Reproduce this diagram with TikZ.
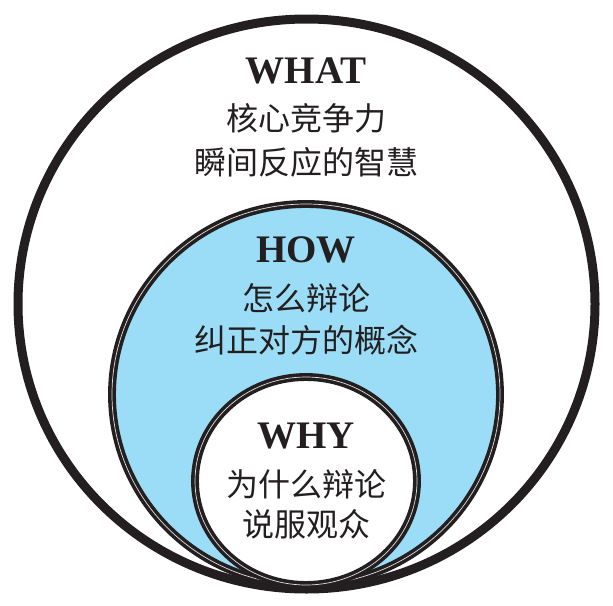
\documentclass[tikz,border=0pt]{standalone}
\usepackage{fontspec}
\setmainfont{Liberation Serif}
\newfontfamily\cjk{Noto Sans CJK SC}
\usepackage{tikz}
\usetikzlibrary{shapes.geometric}

\definecolor{inkdark}{HTML}{231F20}
\definecolor{skyfill}{HTML}{9BDDF6}

\begin{document}
\begin{tikzpicture}[x=1pt, y=-1pt,
    ring/.style={ellipse, draw=inkdark, inner sep=0pt},
    dblring/.style={ring, line width=3.6pt, double=gray!25, double distance=0.7pt},
    title/.style={anchor=base, text=inkdark, font=\fontsize{39}{39}\selectfont\bfseries},
    line/.style={anchor=base, text=inkdark, font=\fontsize{32}{32}\selectfont\cjk}]
  \useasboundingbox (0,0) rectangle (613,605);
  % circles
  \node[ring, line width=9pt, minimum width=577pt, minimum height=570pt] (what) at (306.5,304) {};
  \node[dblring, fill=skyfill, minimum width=388pt, minimum height=381pt] (how) at (306,394.5) {};
  \node[dblring, fill=white, minimum width=222pt, minimum height=208pt] (why) at (306,481) {};
  % labels
  \node[title] (whatT)  at (306,83)  {WHAT};
  \node[line]  (whatA)  at (306,130) {核心竞争力};
  \node[line]  (whatB)  at (306,174) {瞬间反应的智慧};
  \node[title] (howT)   at (306,262) {HOW};
  \node[line]  (howA)   at (306,310) {怎么辩论};
  \node[line]  (howB)   at (306,352) {纠正对方的概念};
  \node[title] (whyT)   at (306,448) {WHY};
  \node[line]  (whyA)   at (306,496) {为什么辩论};
  \node[line]  (whyB)   at (306,536) {说服观众};
\end{tikzpicture}
\end{document}
